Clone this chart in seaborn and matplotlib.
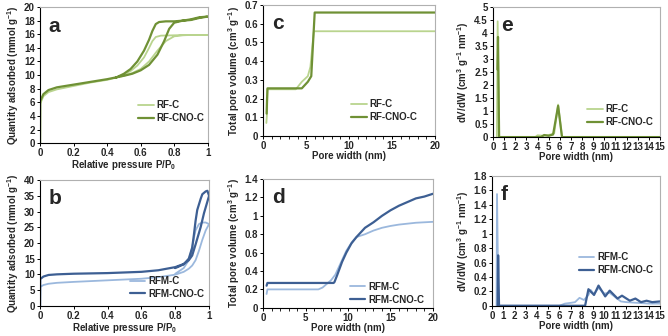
import numpy as np
import pandas as pd
import matplotlib
matplotlib.use("Agg")
import matplotlib.pyplot as plt
from matplotlib.ticker import MultipleLocator, FuncFormatter
import seaborn as sns

sns.set_theme(style="white")
plt.rcParams['font.family'] = ['Liberation Sans', 'DejaVu Sans']
plt.rcParams['mathtext.default'] = 'regular'

# ---------------- Data ----------------
# Panel a: isotherms (adsorption then desorption branch)
rfc_p = [0, 0.001, 0.02, 0.05, 0.1, 0.2, 0.3, 0.4, 0.5, 0.55, 0.6, 0.65, 0.7, 0.75, 0.8, 0.85, 0.9, 0.95, 1.0,
         0.9, 0.8, 0.72, 0.69, 0.67, 0.65, 0.62, 0.58, 0.54, 0.5, 0.45]
rfc_q = [0, 5.8, 6.9, 7.5, 7.9, 8.4, 8.9, 9.3, 9.9, 10.3, 10.9, 12.0, 13.6, 15.0, 15.7, 15.85, 15.9, 15.9, 15.9,
         15.9, 15.85, 15.8, 15.6, 15.0, 14.0, 12.6, 11.4, 10.6, 10.1, 9.6]
rfcno_p = [0, 0.001, 0.02, 0.05, 0.1, 0.2, 0.3, 0.4, 0.5, 0.55, 0.6, 0.65, 0.7, 0.74, 0.77, 0.8, 0.85, 0.9, 0.95, 1.0,
           0.95, 0.9, 0.85, 0.8, 0.75, 0.71, 0.69, 0.67, 0.65, 0.62, 0.58, 0.54, 0.5, 0.45]
rfcno_q = [0, 6.2, 7.2, 7.8, 8.2, 8.6, 9.0, 9.4, 9.9, 10.2, 10.7, 11.5, 13.0, 15.0, 16.8, 17.7, 18.0, 18.1, 18.4, 18.6,
           18.5, 18.2, 18.0, 17.9, 17.9, 17.8, 17.5, 16.5, 15.2, 13.6, 12.0, 10.9, 10.2, 9.6]

# Panel b: isotherms
rfmc_p = [0, 0.001, 0.02, 0.05, 0.1, 0.2, 0.4, 0.6, 0.7, 0.8, 0.85, 0.88, 0.9, 0.92, 0.94, 0.96, 0.98, 1.0,
          0.98, 0.96, 0.94, 0.92, 0.91, 0.9, 0.88, 0.85, 0.8]
rfmc_q = [0, 6.0, 6.6, 7.0, 7.3, 7.6, 8.1, 8.6, 9.1, 9.9, 10.8, 11.8, 12.8, 14.5, 17.5, 21.0, 24.0, 26.0,
          26.5, 26.5, 26.0, 24.0, 21.5, 18.5, 14.5, 12.0, 10.2]
rfmcno_p = [0, 0.001, 0.02, 0.05, 0.1, 0.2, 0.4, 0.6, 0.7, 0.8, 0.85, 0.88, 0.9, 0.92, 0.95, 0.97, 1.0,
            0.99, 0.98, 0.96, 0.95, 0.93, 0.92, 0.91, 0.9, 0.88, 0.85, 0.8]
rfmcno_q = [0, 8.5, 9.3, 9.8, 10.0, 10.2, 10.4, 10.8, 11.3, 12.3, 13.3, 14.5, 16.0, 19.5, 25.0, 29.5, 35.0,
            36.6, 36.4, 35.5, 34.0, 30.5, 27.0, 22.5, 18.5, 15.0, 13.2, 12.0]

# Panel c: cumulative pore volume
c_w_rfc = [0.37, 0.45, 0.5, 1, 2, 3, 3.8, 4.5, 5.2, 5.5, 5.9, 6.5, 10, 15, 20]
c_v_rfc = [0.07, 0.12, 0.25, 0.25, 0.25, 0.25, 0.25, 0.29, 0.32, 0.37, 0.56, 0.56, 0.56, 0.56, 0.56]
c_w_rfcno = [0.4, 0.45, 0.5, 1, 2, 3, 4, 4.5, 5.2, 5.6, 6.0, 6.5, 10, 15, 20]
c_v_rfcno = [0.12, 0.2, 0.255, 0.255, 0.255, 0.255, 0.255, 0.255, 0.29, 0.32, 0.66, 0.66, 0.66, 0.66, 0.66]

# Panel d: cumulative pore volume
d_w_rfmc = [0.4, 0.5, 1, 3, 5, 6.5, 7, 7.5, 8, 8.5, 9.2, 9.8, 10.5, 11, 12, 13, 14, 15, 16, 17, 18, 19, 20]
d_v_rfmc = [0.15, 0.2, 0.2, 0.2, 0.2, 0.2, 0.22, 0.26, 0.3, 0.36, 0.5, 0.62, 0.72, 0.77, 0.8, 0.84, 0.87, 0.89,
            0.905, 0.915, 0.925, 0.93, 0.935]
d_w_rfmcno = [0.4, 0.5, 1, 3, 5, 7, 8.3, 8.4, 8.7, 9.3, 9.8, 10.4, 11, 12, 13, 14, 15, 16, 17, 18, 19, 20]
d_v_rfmcno = [0.24, 0.27, 0.27, 0.27, 0.27, 0.27, 0.27, 0.28, 0.35, 0.5, 0.6, 0.7, 0.77, 0.87, 0.93, 1.0, 1.06,
              1.11, 1.15, 1.19, 1.21, 1.24]

# Panel e: dV/dW
e_w_rfc = [0.35, 0.42, 0.55, 1, 3, 3.8, 4.0, 4.6, 5.2, 5.5, 5.85, 6.2, 8, 10, 15]
e_v_rfc = [0, 4.45, 0, 0, 0, 0, 0.07, 0.05, 0.1, 0.15, 1.25, 0, 0, 0, 0]
e_w_rfcno = [0.4, 0.45, 0.55, 1, 3, 4.3, 4.6, 5.0, 5.4, 5.85, 6.2, 8, 10, 15]
e_v_rfcno = [2.6, 3.85, 0, 0, 0, 0, 0.08, 0.05, 0.1, 1.2, 0, 0, 0, 0]

# Panel f: dV/dW
f_w_rfmc = [0.38, 0.42, 0.55, 1, 3, 6, 6.5, 7, 7.4, 7.8, 8.2, 8.6, 8.8, 9.1, 9.5, 10, 10.5, 11, 11.5, 12, 13, 14, 15]
f_v_rfmc = [0, 1.55, 0, 0, 0, 0, 0.03, 0.04, 0.05, 0.11, 0.08, 0.15, 0.22, 0.16, 0.25, 0.17, 0.18, 0.12, 0.06,
            0.05, 0.04, 0.03, 0.03]
f_w_rfmcno = [0.48, 0.52, 0.6, 1, 3, 6, 8.3, 8.6, 9.1, 9.5, 10.1, 10.5, 11.2, 11.6, 12.3, 12.8, 13.3, 13.8, 14.3, 15]
f_v_rfmcno = [0, 0.7, 0, 0, 0, 0, 0, 0.23, 0.15, 0.28, 0.13, 0.21, 0.1, 0.14, 0.07, 0.1, 0.05, 0.07, 0.05, 0.06]

names_rf = ["RF-C", "RF-CNO-C"]
names_rfm = ["RFM-C", "RFM-CNO-C"]
col_rf = ["#b9d48e", "#6f9135"]
col_rfm = ["#9bb8dd", "#3d5f93"]

# ---------------- Figure ----------------
fig = plt.figure(figsize=(6.68, 3.36), dpi=100)
pos = {
    'a': [0.060, 0.574, 0.251, 0.405],
    'b': [0.060, 0.090, 0.253, 0.374],
    'c': [0.394, 0.595, 0.257, 0.390],
    'd': [0.394, 0.084, 0.254, 0.383],
    'e': [0.738, 0.592, 0.250, 0.387],
    'f': [0.737, 0.090, 0.251, 0.386],
}
leg_y = {'a': 0.145, 'b': 0.055, 'c': 0.105, 'd': 0.025, 'e': 0.075, 'f': 0.235}
leg_x = {'a': 0.98, 'b': 0.97, 'c': 0.90, 'd': 0.95, 'e': 0.96, 'f': 0.96}

FS = 7
FW = 'bold'
num_fmt = FuncFormatter(lambda v, p: ('%g' % round(v, 6)))


def make_df(xs, ys, names):
    frames = []
    for x, y, n in zip(xs, ys, names):
        frames.append(pd.DataFrame({'x': x, 'y': y, 'name': n}))
    return pd.concat(frames, ignore_index=True)


def panel(key, xs, ys, names, cols, xlim, ylim, xmaj, ymaj, xlabel, ylabel, xminor=None, lw=(1.3, 1.6)):
    ax = fig.add_axes(pos[key])
    df = make_df(xs, ys, names)
    for n, c, w in zip(names, cols, lw):
        sub = df[df['name'] == n]
        sns.lineplot(data=sub, x='x', y='y', sort=False, estimator=None, color=c, lw=w, ax=ax, label=n)
    ax.set_xlim(*xlim)
    ax.set_ylim(*ylim)
    ax.xaxis.set_major_locator(MultipleLocator(xmaj))
    ax.yaxis.set_major_locator(MultipleLocator(ymaj))
    ax.xaxis.set_major_formatter(num_fmt)
    ax.yaxis.set_major_formatter(num_fmt)
    if xminor:
        ax.xaxis.set_minor_locator(MultipleLocator(xminor))
    ax.tick_params(axis='both', which='major', direction='out', length=2.5, width=0.7, color='black',
                   labelsize=FS, pad=1.2, bottom=True, left=True)
    ax.tick_params(axis='x', which='minor', direction='out', length=2, width=0.6, color='black', bottom=True)
    for lab in ax.get_xticklabels() + ax.get_yticklabels():
        lab.set_fontweight(FW)
    for s in ax.spines.values():
        s.set_color('#b0b0b0')
        s.set_linewidth(0.8)
    ax.spines['left'].set_color('black')
    ax.spines['bottom'].set_color('black')
    ax.set_xlabel(xlabel, fontsize=FS, fontweight=FW, labelpad=0)
    ax.set_ylabel(ylabel, fontsize=FS, fontweight=FW, labelpad=2)
    ax.text(0.05, 0.93, key, transform=ax.transAxes, fontsize=15, fontweight='bold', va='top', ha='left')
    leg = ax.legend(loc='lower right', bbox_to_anchor=(leg_x[key], leg_y[key]), frameon=False, fontsize=FS,
                    handlelength=1.6, handletextpad=0.3, labelspacing=0.3, borderaxespad=0.0, borderpad=0.0)
    for t in leg.get_texts():
        t.set_fontweight(FW)
    return ax


xl_p = 'Relative pressure P/P$_0$'
xl_w = 'Pore width (nm)'
yl_q = 'Quantity adsorbed (mmol g$^{-1}$)'
yl_v = 'Total pore volume (cm$^3$ g$^{-1}$)'
yl_d = 'dV/dW (cm$^3$ g$^{-1}$ nm$^{-1}$)'

panel('a', [rfc_p, rfcno_p], [rfc_q, rfcno_q], names_rf, col_rf, (0, 1), (0, 20), 0.2, 2, xl_p, yl_q)
panel('b', [rfmc_p, rfmcno_p], [rfmc_q, rfmcno_q], names_rfm, col_rfm, (0, 1), (0, 40), 0.2, 5, xl_p, yl_q)
panel('c', [c_w_rfc, c_w_rfcno], [c_v_rfc, c_v_rfcno], names_rf, col_rf, (0, 20), (0, 0.7), 5, 0.1,
      xl_w, yl_v, xminor=1)
panel('d', [d_w_rfmc, d_w_rfmcno], [d_v_rfmc, d_v_rfmcno], names_rfm, col_rfm, (0, 20), (0, 1.4), 5, 0.2,
      xl_w, yl_v, xminor=1)
panel('e', [e_w_rfc, e_w_rfcno], [e_v_rfc, e_v_rfcno], names_rf, col_rf, (0, 15), (0, 5), 1, 0.5, xl_w, yl_d)
panel('f', [f_w_rfmc, f_w_rfmcno], [f_v_rfmc, f_v_rfmcno], names_rfm, col_rfm, (0, 15), (0, 1.8), 1, 0.2,
      xl_w, yl_d)

fig.savefig('out.png', dpi=100)
